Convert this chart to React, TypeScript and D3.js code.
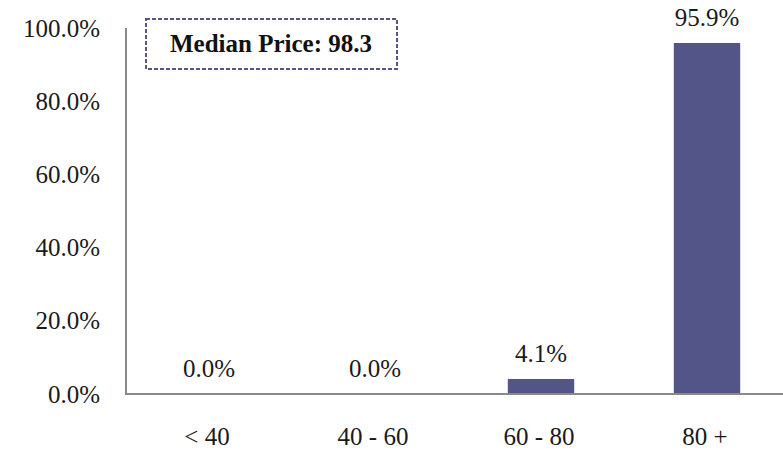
import React, { useEffect, useRef } from 'react';
import * as d3 from 'd3';

const categories = ['< 40', '40 - 60', '60 - 80', '80 +'];
const shares = [0.0, 0.0, 4.1, 95.9];
const yTicks = [0, 20, 40, 60, 80, 100];
const medianPrice = 98.3;

export default function App() {
  const d3Container = useRef<HTMLDivElement>(null);

  useEffect(() => {
    if (!d3Container.current) return;
    d3.select(d3Container.current).selectAll('*').remove();

    const width = 783;
    const height = 452;
    const font = '"Liberation Serif", "Times New Roman", serif';
    const barColor = '#535487';

    const svg = d3.select(d3Container.current)
      .append('svg')
      .attr('width', width)
      .attr('height', height)
      .attr('viewBox', [0, 0, width, height])
      .style('font-family', font);

    const x = d3.scaleBand<string>()
      .domain(categories)
      .range([126, 790])
      .paddingInner(0.6)
      .paddingOuter(0.3);

    const y = d3.scaleLinear()
      .domain([0, 100])
      .range([394, 28]);

    // y tick labels
    svg.append('g')
      .selectAll('text')
      .data(yTicks)
      .join('text')
      .attr('x', 100)
      .attr('y', d => y(d))
      .attr('dy', '0.34em')
      .attr('text-anchor', 'end')
      .attr('font-size', 25)
      .attr('fill', '#1a1a1a')
      .text(d => d.toFixed(1) + '%');

    // bars
    svg.append('g')
      .selectAll('rect')
      .data(shares)
      .join('rect')
      .attr('x', (d, i) => x(categories[i])!)
      .attr('width', x.bandwidth())
      .attr('y', d => y(d))
      .attr('height', d => y(0) - y(d))
      .attr('fill', barColor);

    // value labels
    svg.append('g')
      .selectAll('text')
      .data(shares)
      .join('text')
      .attr('x', (d, i) => x(categories[i])! + x.bandwidth() / 2)
      .attr('y', d => y(d) - 17)
      .attr('text-anchor', 'middle')
      .attr('font-size', 25)
      .attr('fill', '#1a1a1a')
      .text(d => d.toFixed(1) + '%');

    // axes lines
    svg.append('line')
      .attr('x1', 126).attr('x2', 126)
      .attr('y1', y(100)).attr('y2', y(0) + 1)
      .attr('stroke', '#898989')
      .attr('stroke-width', 2);
    svg.append('line')
      .attr('x1', 125).attr('x2', width)
      .attr('y1', y(0)).attr('y2', y(0))
      .attr('stroke', '#898989')
      .attr('stroke-width', 2);

    // category labels
    svg.append('g')
      .selectAll('text')
      .data(categories)
      .join('text')
      .attr('x', d => x(d)! + x.bandwidth() / 2 - 2)
      .attr('y', 445)
      .attr('text-anchor', 'middle')
      .attr('font-size', 25)
      .attr('fill', '#1a1a1a')
      .text(d => d);

    // median box
    svg.append('rect')
      .attr('x', 146)
      .attr('y', 19)
      .attr('width', 251)
      .attr('height', 50)
      .attr('fill', 'white')
      .attr('stroke', '#55558a')
      .attr('stroke-width', 2)
      .attr('stroke-dasharray', '4,2');
    svg.append('text')
      .attr('x', 271)
      .attr('y', 52)
      .attr('text-anchor', 'middle')
      .attr('font-size', 25)
      .attr('font-weight', 'bold')
      .attr('fill', '#111')
      .text(`Median Price: ${medianPrice}`);
  }, []);

  return (
    <div ref={d3Container} style={{ position: 'absolute', left: 0, top: 0, width: 783, height: 452 }}>
    </div>
  );
}
